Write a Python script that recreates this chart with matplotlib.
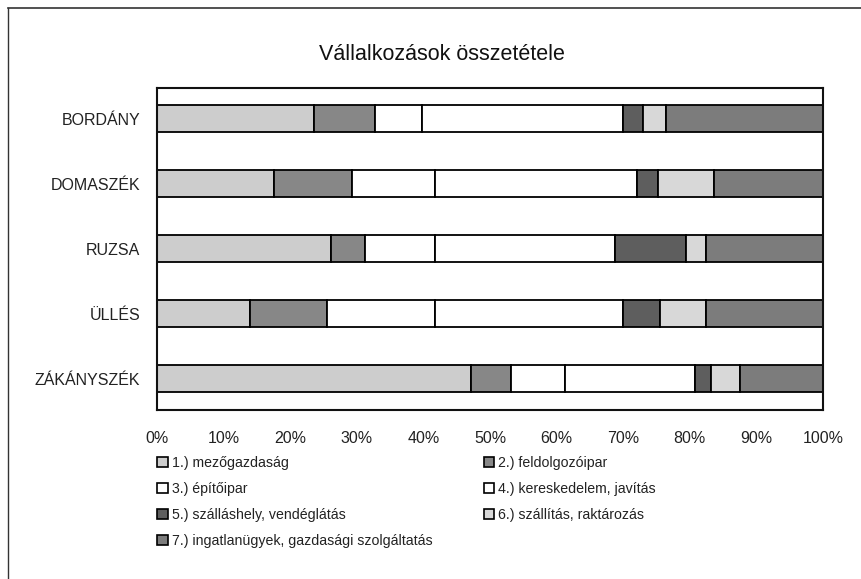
import matplotlib.pyplot as plt
import matplotlib.patches as mpatches
import numpy as np

plt.rcParams['font.family'] = ['Liberation Sans', 'DejaVu Sans']

# settlements, top to bottom
places = ["BORDÁNY", "DOMASZÉK", "RUZSA", "ÜLLÉS", "ZÁKÁNYSZÉK"]

# share of each sector in percent
mezogazdasag = [23.6, 17.6, 26.1, 13.9, 47.1]
feldolgozoipar = [9.2, 11.7, 5.2, 11.7, 6.0]
epitoipar = [7.0, 12.4, 10.4, 16.2, 8.2]
kereskedelem = [30.2, 30.4, 27.0, 28.2, 19.5]
szallashely = [2.9, 3.1, 10.7, 5.5, 2.4]
szallitas = [3.5, 8.4, 3.0, 6.9, 4.4]
ingatlan = [23.6, 16.4, 17.6, 17.6, 12.4]

sector_labels = ["1.) mezőgazdaság", "2.) feldolgozóipar", "3.) építőipar",
                 "4.) kereskedelem, javítás", "5.) szálláshely, vendéglátás",
                 "6.) szállítás, raktározás",
                 "7.) ingatlanügyek, gazdasági szolgáltatás"]
ticks = [0, 10, 20, 30, 40, 50, 60, 70, 80, 90, 100]

series = [mezogazdasag, feldolgozoipar, epitoipar, kereskedelem,
          szallashely, szallitas, ingatlan]
colors = ["#cdcdcd", "#878787", "#ffffff", "#ffffff", "#5e5e5e", "#d8d8d8", "#7c7c7c"]

fig = plt.figure(figsize=(8.62, 5.79), dpi=100)
ax = fig.add_axes([157 / 862, 1 - 410 / 579, 666 / 862, (410 - 88) / 579])

y = np.arange(len(places))
left = np.zeros(len(places))
handles = []
for vals, col, lab in zip(series, colors, sector_labels):
    vals = np.array(vals)
    ax.barh(y, vals, left=left, height=0.42, color=col, edgecolor="black", linewidth=1.3)
    left += vals
    handles.append(mpatches.Patch(facecolor=col, edgecolor="black", linewidth=1.2, label=lab))

ax.set_xlim(0, 100)
ax.set_ylim(4.48, -0.47)
ax.set_yticks(y)
ax.set_yticklabels(places)
ax.set_xticks(ticks)
ax.set_xticklabels([f"{t}%" for t in ticks])
ax.tick_params(axis="both", length=0, labelsize=11.5, colors="#222222")
ax.tick_params(axis="x", pad=15)
ax.tick_params(axis="y", pad=12)
for s in ax.spines.values():
    s.set_linewidth(1.5)
    s.set_color("#111111")

fig.text(442 / 862, 1 - 54 / 579, "Vállalkozások összetétele", ha="center", va="center",
         fontsize=15.5, color="#111111")

# legend filled row by row, two columns
order = [0, 2, 4, 6, 1, 3, 5]
fig.legend([handles[i] for i in order], [sector_labels[i] for i in order],
           loc="upper left", bbox_to_anchor=(157 / 862, 1 - 456 / 579), ncol=2,
           frameon=False, fontsize=10.2, handlelength=0.75, handleheight=0.75,
           handletextpad=0.3, labelspacing=0.84, columnspacing=3.6,
           borderpad=0, borderaxespad=0, labelcolor="#222222")

# outer frame (top and left edge of the scanned page)
fig.add_artist(plt.Line2D([8 / 862, 1], [1 - 8 / 579, 1 - 8 / 579], color="#333333", linewidth=1.2))
fig.add_artist(plt.Line2D([8 / 862, 8 / 862], [0, 1 - 8 / 579], color="#333333", linewidth=1.0))

fig.savefig("out.png", dpi=100)
